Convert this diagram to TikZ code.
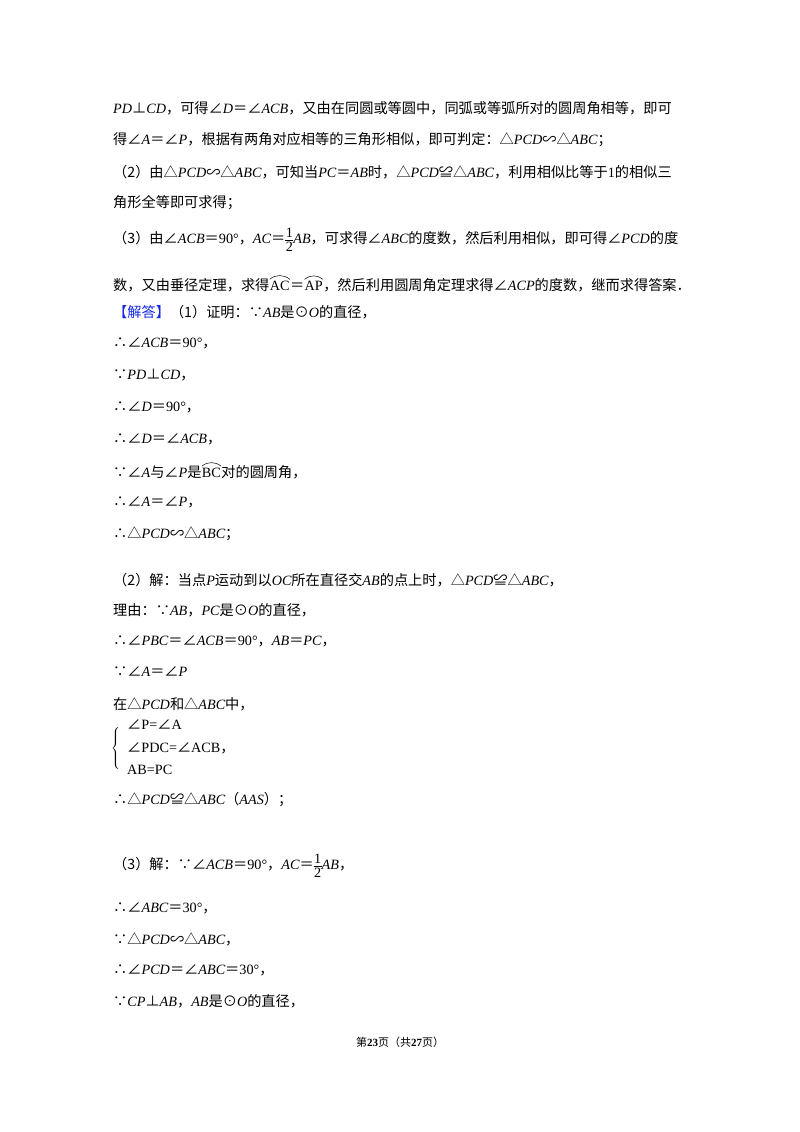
\documentclass[tikz,border=0pt]{standalone}
\usepackage{fontspec}
\setmainfont{Noto Sans CJK SC}
\newfontfamily\lat{Liberation Serif}
\newcommand\I[1]{{\lat\itshape #1}}
\newcommand\R[1]{{\lat #1}}
\newcommand\half{\raisebox{-1.1ex}{\lat\shortstack{1\\[-1pt]\rule{8pt}{0.5pt}\\[-1pt]2}}}
\newcommand\arcx[1]{\tikz[baseline=(t.base)]{\node[inner sep=0pt](t){\R{#1}};\draw[line width=0.5pt]([yshift=1.5pt]t.north west) to[bend left=40] ([yshift=1.5pt]t.north east);}}
\definecolor{ans}{RGB}{20,40,230}
\begin{document}
\begin{tikzpicture}[x=1pt,y=-1pt,every node/.style={anchor=west,inner sep=0pt,font=\fontsize{14.2}{16}\selectfont}]
\useasboundingbox (0,0) rectangle (800,1132);
\node (l1) at (113,108) {\I{PD}⊥\I{CD}，可得∠\I{D}＝∠\I{ACB}，又由在同圆或等圆中，同弧或等弧所对的圆周角相等，即可};
\node (l2) at (113,140) {得∠\I{A}＝∠\I{P}，根据有两角对应相等的三角形相似，即可判定：△\I{PCD}∽△\I{ABC}；};
\node (l3) at (113,172) {（2）由△\I{PCD}∽△\I{ABC}，可知当\I{PC}＝\I{AB}时，△\I{PCD}≌△\I{ABC}，利用相似比等于\R{1}的相似三};
\node (l4) at (113,203) {角形全等即可求得；};
\node (l5) at (113,240) {（3）由∠\I{ACB}＝\R{90°}，\I{AC}＝\half\I{AB}，可求得∠\I{ABC}的度数，然后利用相似，即可得∠\I{PCD}的度};
\node (l6) at (113,283) {数，又由垂径定理，求得\arcx{AC}＝\arcx{AP}，然后利用圆周角定理求得∠\I{ACP}的度数，继而求得答案．};
\node (l7) at (113,312) {\textcolor{ans}{【解答】}（1）证明：∵\I{AB}是⊙\I{O}的直径，};
\node (l8) at (113,343) {∴∠\I{ACB}＝\R{90°}，};
\node (l9) at (113,375) {∵\I{PD}⊥\I{CD}，};
\node (l10) at (113,407) {∴∠\I{D}＝\R{90°}，};
\node (l11) at (113,439) {∴∠\I{D}＝∠\I{ACB}，};
\node (l12) at (113,470) {∵∠\I{A}与∠\I{P}是\arcx{BC}对的圆周角，};
\node (l13) at (113,502) {∴∠\I{A}＝∠\I{P}，};
\node (l14) at (113,534) {∴△\I{PCD}∽△\I{ABC}；};
\node (m1) at (113,580) {（2）解：当点\I{P}运动到以\I{OC}所在直径交\I{AB}的点上时，△\I{PCD}≌△\I{ABC}，};
\node (m2) at (113,610) {理由：∵\I{AB}，\I{PC}是⊙\I{O}的直径，};
\node (m3) at (113,641) {∴∠\I{PBC}＝∠\I{ACB}＝\R{90°}，\I{AB}＝\I{PC}，};
\node (m4) at (113,672) {∵∠\I{A}＝∠\I{P}};
\node (m5) at (113,704) {在△\I{PCD}和△\I{ABC}中，};
\node (br) at (111,748) {$\left\{\rule{0pt}{25pt}\right.$};
\node (b1) at (127,725) {∠\R{P=}∠\R{A}};
\node (b2) at (127,748) {∠\R{PDC=}∠\R{ACB}，};
\node (b3) at (127,770) {\R{AB=PC}};
\node (m6) at (113,800) {∴△\I{PCD}≌△\I{ABC}（\I{AAS}）；};
\node (n1) at (113,866) {（3）解：∵∠\I{ACB}＝\R{90°}，\I{AC}＝\half\I{AB}，};
\node (n2) at (113,908) {∴∠\I{ABC}＝\R{30°}，};
\node (n3) at (113,939) {∵△\I{PCD}∽△\I{ABC}，};
\node (n4) at (113,970) {∴∠\I{PCD}＝∠\I{ABC}＝\R{30°}，};
\node (n5) at (113,1001) {∵\I{CP}⊥\I{AB}，\I{AB}是⊙\I{O}的直径，};
\node[anchor=center,font=\fontsize{11}{13}\selectfont] (ft) at (400,1042) {第\textbf{\R{23}}页（共\textbf{\R{27}}页）};
\end{tikzpicture}
\end{document}
